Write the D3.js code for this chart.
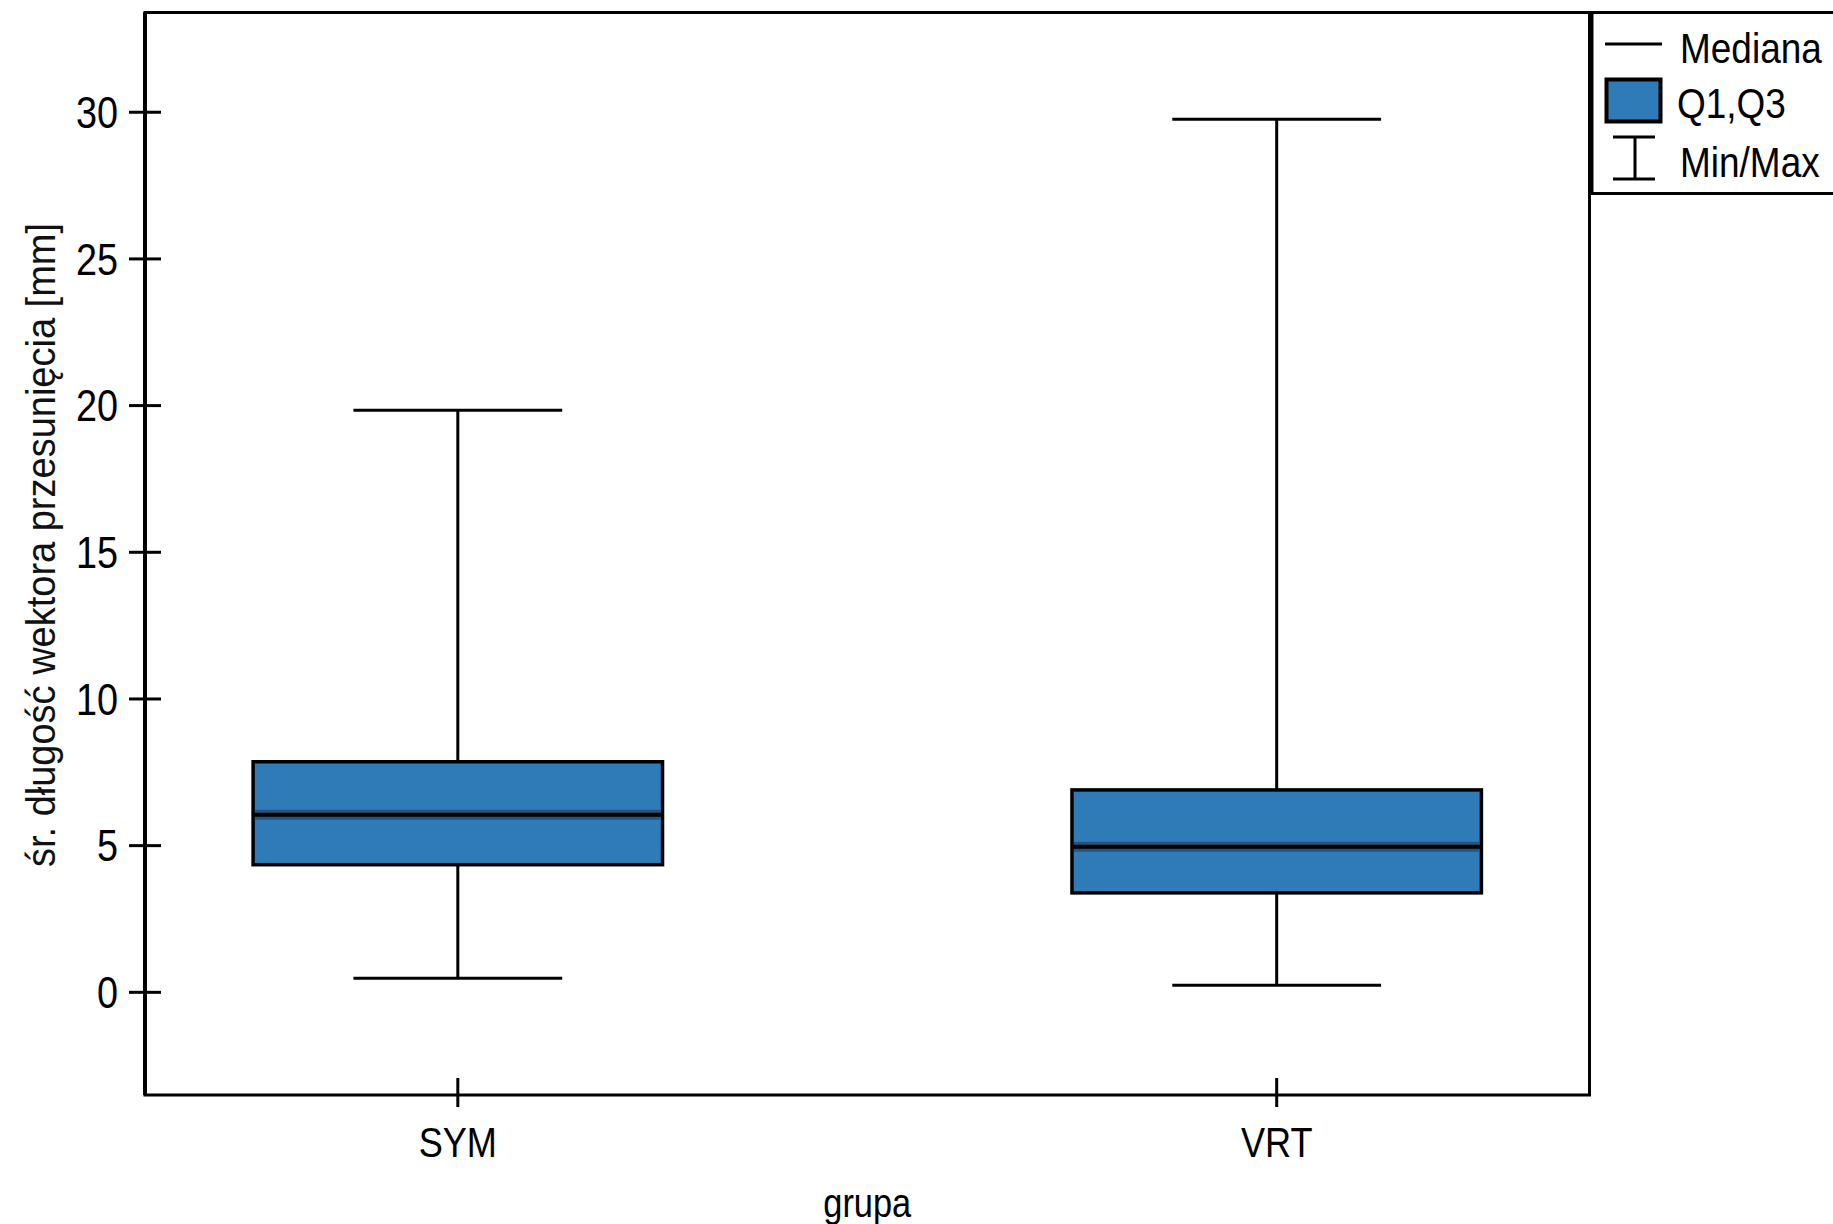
<!DOCTYPE html>
<html>
<head>
<meta charset="utf-8">
<script src="https://cdn.jsdelivr.net/npm/d3@7"></script>
<style>
  html, body { margin: 0; padding: 0; background: #fff; }
  svg { display: block; }
  text { font-family: "Liberation Sans", Arial, sans-serif; fill: #000; }
</style>
</head>
<body>
<svg id="chart"></svg>
<script>
// box-plot data per group
const groups = ["SYM", "VRT"];
const minVals = [0.48, 0.24];
const q1Vals = [4.35, 3.39];
const medVals = [6.05, 4.96];
const q3Vals = [7.86, 6.9];
const maxVals = [19.84, 29.76];
const yTicks = [0, 5, 10, 15, 20, 25, 30];
const legendItems = ["Mediana", "Q1,Q3", "Min/Max"];

const W = 1833, H = 1224;
const m = { t: 12.5, r: 243.5, b: 129, l: 145 };
const iw = W - m.l - m.r, ih = H - m.t - m.b;
const BOX_FILL = "#2e7bb8", MED_SHADE = "#24547f";
const NARROW = 0.86; // the original font is a condensed one

const svg = d3.select("#chart").attr("width", W).attr("height", H);
const g = svg.append("g").attr("transform", `translate(${m.l},${m.t})`);

const x = d3.scalePoint().domain(groups).range([0, iw]).padding(0.382);
const y = d3.scaleLinear().domain([-3.5, 33.4]).range([ih, 0]);
const boxW = x.step() * 0.5, capW = x.step() * 0.255;

const data = groups.map((k, i) => ({
  k, min: minVals[i], q1: q1Vals[i], med: medVals[i], q3: q3Vals[i], max: maxVals[i],
}));

const at = (px, py) => `translate(${px},${py}) scale(${NARROW},1)`;

// ---------- boxes ----------
const box = g.selectAll("g.box").data(data).join("g").attr("class", "box")
  .attr("transform", d => `translate(${x(d.k)},0)`);

box.append("line") // whisker stem
  .attr("x1", 0).attr("x2", 0).attr("y1", d => y(d.min)).attr("y2", d => y(d.max))
  .attr("stroke", "#000").attr("stroke-width", 3);
box.selectAll("line.cap").data(d => [d.min, d.max]).join("line").attr("class", "cap")
  .attr("x1", -capW / 2).attr("x2", capW / 2).attr("y1", v => y(v)).attr("y2", v => y(v))
  .attr("stroke", "#000").attr("stroke-width", 3);
box.append("rect")
  .attr("x", -boxW / 2).attr("width", boxW)
  .attr("y", d => y(d.q3)).attr("height", d => y(d.q1) - y(d.q3))
  .attr("fill", BOX_FILL).attr("stroke", "#000").attr("stroke-width", 3.5);
box.append("line") // soft shade round the median
  .attr("x1", -boxW / 2 + 2).attr("x2", boxW / 2 - 2).attr("y1", d => y(d.med)).attr("y2", d => y(d.med))
  .attr("stroke", MED_SHADE).attr("stroke-width", 10);
box.append("line")
  .attr("x1", -boxW / 2).attr("x2", boxW / 2).attr("y1", d => y(d.med)).attr("y2", d => y(d.med))
  .attr("stroke", "#000").attr("stroke-width", 4);

// ---------- frame + axes ----------
g.append("rect").attr("x", 0).attr("y", 0).attr("width", iw).attr("height", ih)
  .attr("fill", "none").attr("stroke", "#000").attr("stroke-width", 3);
g.append("line").attr("x1", 0).attr("x2", 0).attr("y1", 0).attr("y2", ih)
  .attr("stroke", "#000").attr("stroke-width", 4);

const gy = g.append("g");
gy.selectAll("line").data(yTicks).join("line")
  .attr("x1", -16).attr("x2", 16).attr("y1", d => y(d)).attr("y2", d => y(d))
  .attr("stroke", "#000").attr("stroke-width", 3);
gy.selectAll("text").data(yTicks).join("text")
  .attr("transform", d => at(-27, y(d))).attr("dy", "0.36em")
  .attr("text-anchor", "end").style("font-size", "44px").text(d => d);

const gx = g.append("g");
gx.selectAll("line").data(groups).join("line")
  .attr("x1", d => x(d)).attr("x2", d => x(d)).attr("y1", ih - 17).attr("y2", ih + 12)
  .attr("stroke", "#000").attr("stroke-width", 3);
gx.selectAll("text").data(groups).join("text")
  .attr("transform", d => at(x(d), ih + 62))
  .attr("text-anchor", "middle").style("font-size", "42px").text(d => d);

svg.append("text")
  .attr("transform", at(m.l + iw / 2, 1217))
  .attr("text-anchor", "middle").style("font-size", "40px").text("grupa");

svg.append("text")
  .attr("transform", "translate(55,545) rotate(-90)")
  .attr("text-anchor", "middle").style("font-size", "41px").style("fill", "#111")
  .attr("textLength", 644).attr("lengthAdjust", "spacingAndGlyphs")
  .text("śr. długość wektora przesunięcia [mm]");

// ---------- legend ----------
const lg = svg.append("g").attr("transform", "translate(1592,12.5)");
lg.append("rect").attr("x", 0).attr("y", 0).attr("width", 300).attr("height", 181)
  .attr("fill", "#fff").attr("stroke", "#000").attr("stroke-width", 3);
lg.append("line").attr("x1", 13).attr("x2", 70).attr("y1", 31.5).attr("y2", 31.5)
  .attr("stroke", "#000").attr("stroke-width", 3);
lg.append("rect").attr("x", 14.5).attr("y", 67).attr("width", 54).attr("height", 42)
  .attr("fill", BOX_FILL).attr("stroke", "#000").attr("stroke-width", 4);
lg.append("line").attr("x1", 21).attr("x2", 63).attr("y1", 124.5).attr("y2", 124.5).attr("stroke", "#000").attr("stroke-width", 3);
lg.append("line").attr("x1", 21).attr("x2", 63).attr("y1", 166.5).attr("y2", 166.5).attr("stroke", "#000").attr("stroke-width", 3);
lg.append("line").attr("x1", 43).attr("x2", 43).attr("y1", 124.5).attr("y2", 166.5).attr("stroke", "#000").attr("stroke-width", 3);
lg.selectAll("text").data(legendItems).join("text")
  .attr("transform", (d, i) => at(i === 1 ? 85 : 88, [50.5, 105.5, 164.5][i]))
  .style("font-size", "43px").text(d => d);
</script>
</body>
</html>
